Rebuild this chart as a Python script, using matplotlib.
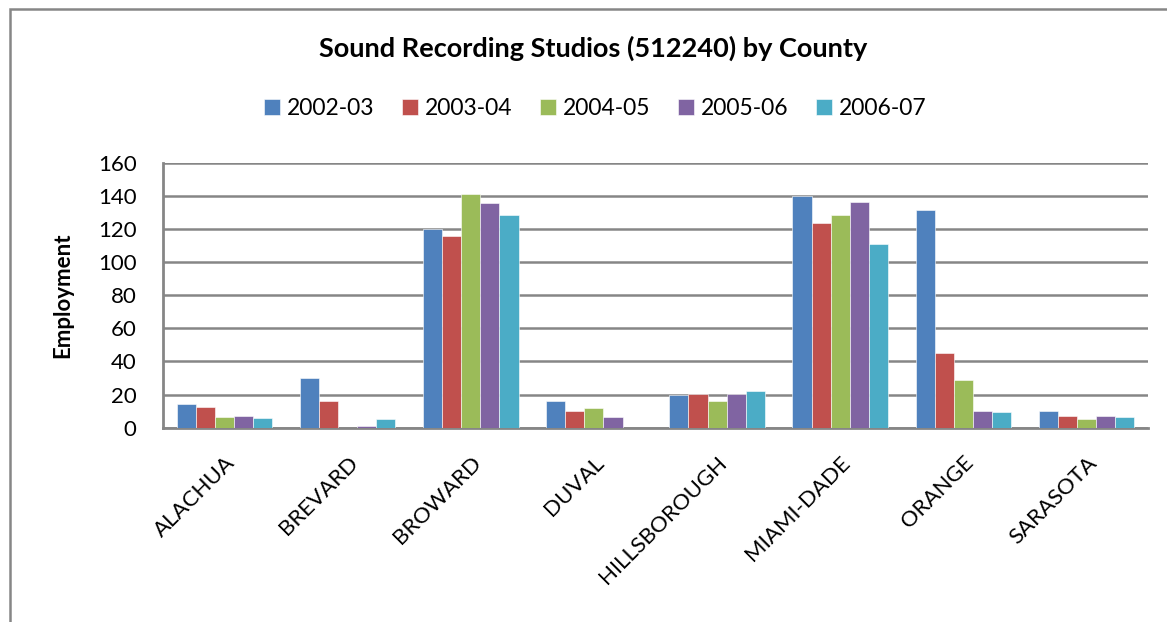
import numpy as np
import matplotlib.pyplot as plt
from matplotlib.patches import Rectangle

plt.rcParams['font.family'] = ['Lato', 'DejaVu Sans']

counties = ["ALACHUA", "BREVARD", "BROWARD", "DUVAL", "HILLSBOROUGH",
            "MIAMI-DADE", "ORANGE", "SARASOTA"]
years = ["2002-03", "2003-04", "2004-05", "2005-06", "2006-07"]

emp_2002 = [14.5, 30, 120, 16.4, 20, 140, 131.5, 10]
emp_2003 = [12.5, 16.2, 116, 10, 20.4, 123.5, 45.2, 7.2]
emp_2004 = [6.5, 0, 141, 11.8, 16, 128.5, 28.6, 5.2]
emp_2005 = [7.3, 1, 135.5, 6.4, 20.4, 136, 10, 7]
emp_2006 = [5.9, 5.3, 128.5, 0, 22.4, 110.8, 9.4, 6.4]
series = [emp_2002, emp_2003, emp_2004, emp_2005, emp_2006]

colors = ["#4F81BD", "#C0504D", "#9BBB59", "#8064A2", "#4BACC6"]
grid_gray = "#868686"

fig = plt.figure(figsize=(11.67, 6.22), dpi=100)
ax = fig.add_axes([0.1397, 0.3124, 0.8440, 0.4260])

x = np.arange(len(counties))
w = 0.155
for i, (vals, c, lab) in enumerate(zip(series, colors, years)):
    ax.bar(x + (i - 2) * w, vals, width=w, color=c, label=lab,
           edgecolor="white", linewidth=0.4, zorder=3)

ax.set_xlim(-0.5, len(counties) - 0.5)
ax.set_ylim(0, 160)
ax.set_yticks(np.arange(0, 161, 20))
ax.yaxis.grid(True, color=grid_gray, linewidth=1.8, zorder=0)
ax.set_axisbelow(True)
for side in ("top", "right"):
    ax.spines[side].set_visible(False)
for side in ("left", "bottom"):
    ax.spines[side].set_color(grid_gray)
    ax.spines[side].set_linewidth(2)
ax.tick_params(axis="both", length=0, labelsize=16)
ax.tick_params(axis="y", pad=19)
ax.set_xticks(x)
ax.set_xticklabels(counties, rotation=45, ha="right", rotation_mode="anchor",
                   fontsize=16)
ax.tick_params(axis="x", pad=18)
ax.set_ylabel("Employment", fontsize=16, fontweight="bold", labelpad=18)

fig.text(0.508, 0.922, "Sound Recording Studios (512240) by County",
         ha="center", va="center", fontsize=19.5, fontweight="bold")
fig.legend(loc="center", bbox_to_anchor=(0.51, 0.826), ncol=5, frameon=False,
           fontsize=16.5, handlelength=0.7, handleheight=0.7,
           handletextpad=0.3, columnspacing=1.2)

# chart frame (only top and left edges fall inside the canvas)
fig.patches.append(Rectangle((9.5 / 1167, -0.1), 1.2, (622 - 8.5) / 622 + 0.1,
                             transform=fig.transFigure, fill=False,
                             edgecolor=grid_gray, linewidth=1.8))

fig.savefig("out.png", dpi=100)
